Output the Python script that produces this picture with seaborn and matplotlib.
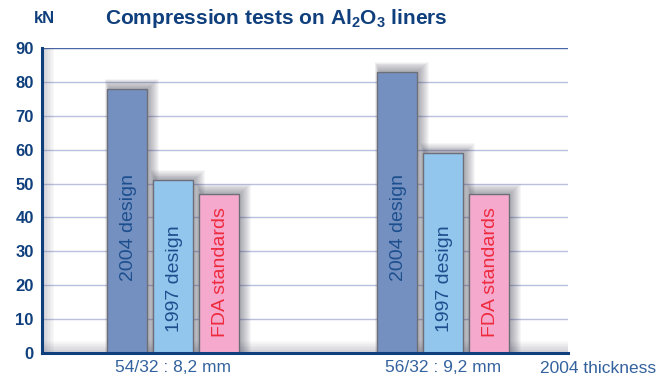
import matplotlib
matplotlib.use("Agg")
import matplotlib.pyplot as plt
from matplotlib.patches import Rectangle
import seaborn as sns
import pandas as pd

# Compression strength of Al2O3 liners (kN)
sizes = ["54/32 : 8,2 mm", "56/32 : 9,2 mm"]
series = ["2004 design", "1997 design", "FDA standards"]
design_2004 = [78, 83]
design_1997 = [51, 59]
fda_standard = [47, 47]
y_ticks = [0, 10, 20, 30, 40, 50, 60, 70, 80, 90]

df = pd.DataFrame({
    "size": sizes * 3,
    "series": [s for s in series for _ in sizes],
    "kN": design_2004 + design_1997 + fda_standard,
})

navy = "#0f3f7c"
bar_colors = ["#7390c0", "#92c6ec", "#f5aacd"]
text_colors = ["#1d4f8f", "#1d4f8f", "#ee2a3e"]
label_y = [37, 22, 24]

sns.set_theme(style="white")
plt.rcParams["font.family"] = ["Liberation Sans", "DejaVu Sans"]
plt.rcParams["mathtext.fontset"] = "custom"
plt.rcParams["mathtext.rm"] = "Liberation Sans:bold"
plt.rcParams["mathtext.default"] = "rm"

fig = plt.figure(figsize=(6.7, 3.78), dpi=100)
ax = fig.add_axes([0.0627, 0.066, 0.7851, 0.807])

sns.barplot(data=df, x="size", y="kN", hue="series", order=sizes,
            hue_order=series, palette=bar_colors, width=0.511, gap=0.13,
            edgecolor="#6e6e78", linewidth=1.0, saturation=1, ax=ax,
            legend=False, zorder=3)

ax.set_xlim(-0.485, 1.463)
ax.set_ylim(0, 90)

# pixel sizes in data units
px_x = 1 / 270.0
px_y = 90 / 305.0

# soft drop shadows behind the bars
for cont in ax.containers:
    for bar in cont:
        x0, w, h = bar.get_x(), bar.get_width(), bar.get_height()
        for k in range(10):
            grow = k + 1
            ax.add_patch(Rectangle((x0 + (2 - 0.4 * grow) * px_x, 0),
                                   w + (1.4 * grow) * px_x,
                                   h + (1 + 0.9 * grow) * px_y,
                                   facecolor="#34344a", edgecolor="none",
                                   alpha=0.045, zorder=2))

# bar captions
for i, (cont, col, ly) in enumerate(zip(ax.containers, text_colors, label_y)):
    for bar in cont:
        cx = bar.get_x() + bar.get_width() / 2
        ax.text(cx + 1.5 * px_x, ly, series[i], rotation=90, ha="center",
                va="center", color=col, fontsize=14, zorder=5)

# gridlines
for t in y_ticks[1:]:
    ax.axhline(t, color="#4a66a8" if t == 90 else "#b9c0dd",
               lw=1.0, zorder=1)

# shadows along the axis lines
for k in range(8):
    ax.axvspan(-0.485, -0.485 + (k + 1) * 1.5 * px_x, color="#50506a",
               alpha=0.035, zorder=1, lw=0)
    ax.axhspan(0, (k + 1) * 1.5 * px_y, color="#50506a",
               alpha=0.035, zorder=1, lw=0)

for side in ["top", "right"]:
    ax.spines[side].set_visible(False)
for side in ["left", "bottom"]:
    ax.spines[side].set_color(navy)
    ax.spines[side].set_linewidth(2.2)
    ax.spines[side].set_zorder(6)

ax.set_yticks(y_ticks)
ax.tick_params(axis="y", direction="in", length=5, width=2.2, color=navy,
               labelcolor=navy, labelsize=12, pad=6)
for lab in ax.get_yticklabels():
    lab.set_fontweight("bold")
ax.tick_params(axis="x", length=0, labelcolor="#33629e", labelsize=12.5,
               pad=5)
ax.set_xlabel("")
ax.set_ylabel("")

fig.text(0.067, 0.952, "kN", color=navy, fontsize=12, fontweight="bold",
         ha="center", va="center")
fig.text(0.156, 0.950, r"Compression tests on Al$_2$O$_3$ liners",
         color=navy, fontsize=15, fontweight="bold", ha="left",
         va="center")
fig.text(0.806, 0.024, "2004 thickness", color="#33629e", fontsize=12.5,
         ha="left", va="center")

fig.savefig("out.png", dpi=100)
